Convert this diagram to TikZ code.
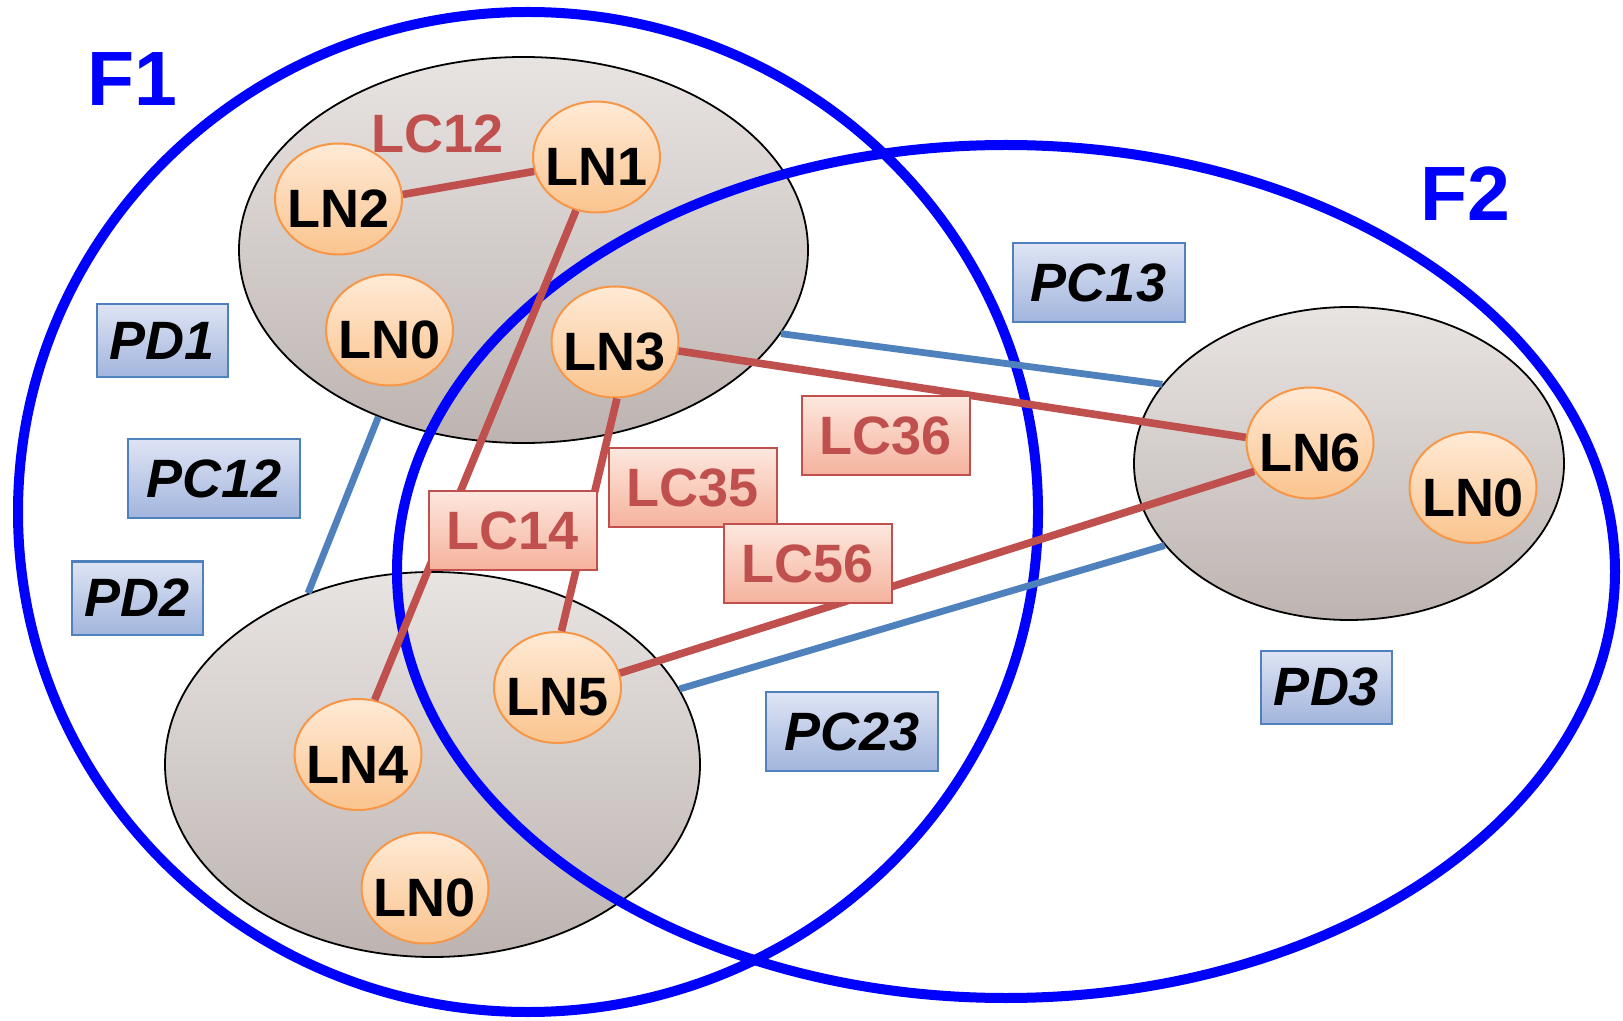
\documentclass[tikz,border=0pt]{standalone}
\usepackage{fontspec}
\setmainfont{Liberation Sans}
\usetikzlibrary{shapes.geometric}
\usetikzlibrary{positioning}

\definecolor{famblue}{RGB}{0,0,255}
\definecolor{zonetop}{RGB}{232,228,226}
\definecolor{zonebot}{RGB}{189,180,177}
\definecolor{lnedge}{RGB}{247,150,70}
\definecolor{lntop}{RGB}{255,234,214}
\definecolor{lnbot}{RGB}{250,196,142}
\definecolor{lcred}{RGB}{192,80,77}
\definecolor{lctop}{RGB}{253,231,222}
\definecolor{lcbot}{RGB}{245,178,156}
\definecolor{pblue}{RGB}{79,129,189}
\definecolor{ptop}{RGB}{222,228,244}
\definecolor{pbot}{RGB}{162,181,221}

\newcommand{\bigtext}{\bfseries\fontsize{27}{32}\selectfont}

\tikzset{
  fam/.style={ellipse, draw=famblue, line width=5pt, inner sep=0pt},
  famlabel/.style={text=famblue, font=\bfseries\fontsize{38.5}{44}\selectfont},
  zone/.style={ellipse, draw=black, line width=0.9pt, top color=zonetop, bottom color=zonebot, inner sep=0pt},
  ln/.style={ellipse, draw=lnedge, line width=1pt, top color=lntop, bottom color=lnbot, minimum width=63.5pt, minimum height=55.5pt, inner sep=0pt},
  lntext/.style={font=\bigtext, yshift=-5pt},
  lcbox/.style={draw=lcred, line width=1pt, top color=lctop, bottom color=lcbot, minimum width=84pt, minimum height=39.5pt, inner sep=0pt, text=lcred, font=\bigtext},
  lclabel/.style={text=lcred, font=\bigtext},
  pbox/.style={draw=pblue, line width=1pt, top color=ptop, bottom color=pbot, inner sep=0pt, font=\bigtext\itshape},
  pdbox/.style={pbox, minimum width=65.5pt, minimum height=36.5pt},
  pcbox/.style={pbox, minimum width=86pt, minimum height=39.5pt},
  lclink/.style={draw=lcred, line width=3.8pt},
  plink/.style={draw=pblue, line width=3.4pt}
}

\begin{document}
\begin{tikzpicture}[x=0.5pt, y=-0.5pt]
    \useasboundingbox (0,0) rectangle (1623,1021);

    % grey zones
    \node[zone, minimum width=284.5pt, minimum height=193pt] (G1) at (523.5,250) {};
    \node[zone, minimum width=267.5pt, minimum height=192.5pt] (G2) at (432.5,764.5) {};
    \node[zone, minimum width=215pt, minimum height=156.5pt] (G3) at (1349,463.5) {};

    % families
    \node[fam, minimum width=510pt, minimum height=500pt] (F1) at (528,512) {};
    \node[fam, minimum width=609pt, minimum height=426.5pt] (F2) at (1006,571.5) {};
    \node[famlabel] (F1lbl) at (132,79) {F1};
    \node[famlabel] (F2lbl) at (1465,194) {F2};

    % logical nodes
    \node[ln, label={[lntext]center:LN1}] (LN1) at (596.5,157) {};
    \node[ln, label={[lntext]center:LN2}] (LN2) at (338.5,199) {};
    \node[ln, label={[lntext]center:LN0}] (LN0a) at (389.5,330) {};
    \node[ln, label={[lntext]center:LN3}] (LN3) at (615,342) {};
    \node[ln, label={[lntext]center:LN4}] (LN4) at (358,754.5) {};
    \node[ln, label={[lntext]center:LN0}] (LN0b) at (425,888) {};
    \node[ln, label={[lntext]center:LN5}] (LN5) at (557.5,687.5) {};
    \node[ln, label={[lntext]center:LN6}] (LN6) at (1310,443) {};
    \node[ln, label={[lntext]center:LN0}] (LN0c) at (1473,487.5) {};

    % physical links
    \draw[plink] (G1.-131) -- (G2.126);
    \draw[plink] (G1.-18) -- (G3.157);
    \draw[plink] (G2.17) -- (G3.204);

    % logical links
    \draw[lclink] (LN2.4) -- (LN1.193);
    \draw[lclink] (LN1.-111) -- (LN4.73);
    \draw[lclink] (LN3.-88) -- (LN5.86);
    \draw[lclink] (LN3.-8) -- (LN6.175);
    \draw[lclink] (LN5.13) -- (LN6.207);

    % link labels
    \node[lclabel] (LC12) at (437.5,134) {LC12};
    \node[lcbox] (LC14) at (513,530.5) {LC14};
    \node[lcbox] (LC35) at (693,488) {LC35};
    \node[lcbox] (LC36) at (885.5,435.5) {LC36};
    \node[lcbox] (LC56) at (807.5,563.5) {LC56};

    % physical labels
    \node[pdbox] (PD1) at (162.5,340.5) {PD1};
    \node[pcbox] (PC12) at (214,478.5) {PC12};
    \node[pdbox] (PD2) at (137.5,598) {PD2};
    \node[pcbox] (PC13) at (1098.5,283) {PC13};
    \node[pcbox] (PC23) at (852,731.5) {PC23};
    \node[pdbox] (PD3) at (1326.5,687) {PD3};
\end{tikzpicture}
\end{document}
